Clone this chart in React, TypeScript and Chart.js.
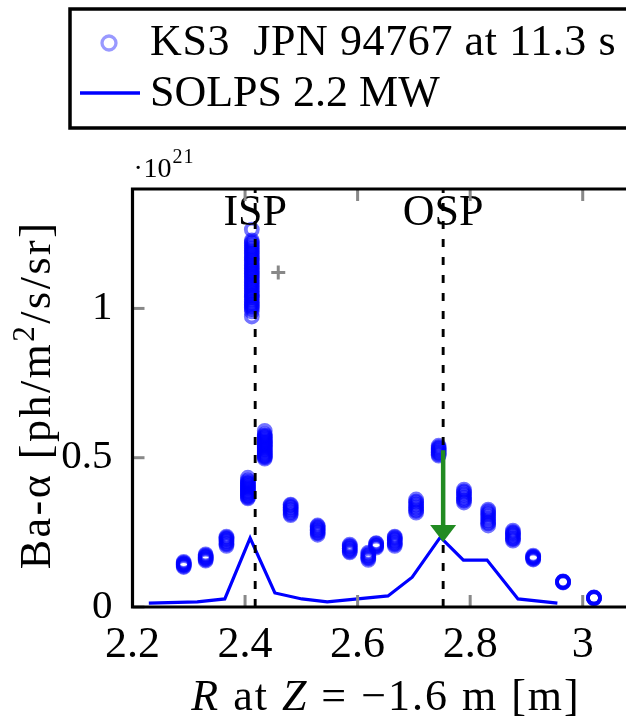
import React, { useEffect, useRef } from "react";
import { Chart, registerables } from "chart.js";

Chart.register(...registerables);

// ---------- data ----------
const X_MIN = 2.2;
const X_MAX = 3.1;
const Y_MIN = 0;
const Y_MAX = 1.4;
const X_TICKS = [2.2, 2.4, 2.6, 2.8, 3.0];
const X_TICK_LABELS = ["2.2", "2.4", "2.6", "2.8", "3"];
const Y_TICKS = [0, 0.5, 1];
const Y_TICK_LABELS = ["0", "0.5", "1"];

// KS3 channels (R positions) and the values measured over time at each channel (x 1e21)
const KS3_R = [
  2.291, 2.33, 2.367, 2.405, 2.412, 2.435, 2.481, 2.529, 2.586, 2.619,
  2.633, 2.666, 2.704, 2.744, 2.789, 2.832, 2.876, 2.912, 2.965, 3.02,
];
const KS3_VALUES = [
  [0.134, 0.137, 0.14, 0.142, 0.143, 0.146, 0.148, 0.151],
  [0.155, 0.159, 0.161, 0.165, 0.167, 0.17, 0.173, 0.176],
  [0.205, 0.21, 0.213, 0.218, 0.221, 0.226, 0.229, 0.232, 0.236],
  [0.364, 0.367, 0.37, 0.374, 0.378, 0.381, 0.383, 0.387, 0.39, 0.394, 0.397, 0.4, 0.402, 0.406, 0.41, 0.413, 0.415, 0.42, 0.424, 0.433],
  [0.973, 0.99, 0.998, 1.003, 1.008, 1.013, 1.018, 1.022, 1.029, 1.036, 1.04, 1.044, 1.05, 1.055, 1.061, 1.066, 1.071, 1.076, 1.081, 1.086, 1.091, 1.096, 1.102, 1.108, 1.112, 1.117, 1.122, 1.127, 1.133, 1.138, 1.143, 1.148, 1.154, 1.16, 1.165, 1.17, 1.176, 1.183, 1.188, 1.193, 1.199, 1.204, 1.21, 1.217, 1.222, 1.228, 1.264],
  [0.497, 0.501, 0.504, 0.507, 0.51, 0.514, 0.518, 0.521, 0.525, 0.528, 0.53, 0.534, 0.538, 0.541, 0.543, 0.547, 0.551, 0.553, 0.556, 0.56, 0.565, 0.568, 0.571, 0.575, 0.579, 0.59],
  [0.308, 0.312, 0.318, 0.323, 0.326, 0.332, 0.335, 0.34, 0.343],
  [0.242, 0.247, 0.25, 0.255, 0.258, 0.261, 0.266, 0.27, 0.273],
  [0.183, 0.186, 0.19, 0.195, 0.197, 0.202, 0.205, 0.209],
  [0.158, 0.163, 0.166, 0.17, 0.173, 0.178, 0.182],
  [0.199, 0.203, 0.205, 0.208, 0.212, 0.214],
  [0.205, 0.21, 0.213, 0.217, 0.222, 0.225, 0.23, 0.233, 0.236],
  [0.316, 0.322, 0.326, 0.333, 0.337, 0.343, 0.349, 0.353, 0.36],
  [0.507, 0.511, 0.516, 0.519, 0.523, 0.528, 0.531, 0.535, 0.54],
  [0.35, 0.356, 0.36, 0.365, 0.372, 0.376, 0.383, 0.387, 0.393],
  [0.273, 0.28, 0.284, 0.29, 0.297, 0.302, 0.31, 0.314, 0.321, 0.326],
  [0.222, 0.227, 0.23, 0.234, 0.239, 0.244, 0.247, 0.251, 0.256],
  [0.159, 0.161, 0.164, 0.165, 0.168, 0.169, 0.172],
  [0.082, 0.083, 0.084, 0.084, 0.085, 0.086],
  [0.029, 0.03, 0.03, 0.031, 0.031, 0.032],
];

const OUTLIER_R = [2.459];
const OUTLIER_VALUES = [1.12];

const SOLPS_R = [2.229, 2.315, 2.364, 2.409, 2.453, 2.501, 2.546, 2.654, 2.697, 2.747, 2.788, 2.83, 2.885, 2.955];
const SOLPS_VALUES = [0.013, 0.017, 0.027, 0.231, 0.047, 0.027, 0.017, 0.037, 0.1, 0.234, 0.157, 0.157, 0.027, 0.013];

const STRIKE_R = [2.418, 2.752];
const STRIKE_LABELS = ["ISP", "OSP"];

const ARROW_R = 2.752;
const ARROW_FROM = 0.525;
const ARROW_TO = 0.218;

const LEGEND_KS3 = "KS3  JPN 94767 at 11.3 s";
const LEGEND_SOLPS = "SOLPS 2.2 MW";
const Y_TITLE_PARTS = ["Ba-\u03b1 [ph/m", "2", "/s/sr]"];

// ---------- style ----------
const FONT = "'Liberation Serif', 'DejaVu Serif', serif";
const FS = 44;
const CANVAS_W = 700;
const CANVAS_H = 721;
const MARKER_COLOR = "rgba(0,0,255,0.55)";
const LEGEND_MARKER_COLOR = "rgba(0,0,255,0.4)";
const LINE_COLOR = "#0000ff";
const ARROW_COLOR = "#228b22";

const decor = {
  id: "decor",
  afterDraw(chart: any) {
    const ctx = chart.ctx as any;
    const xs = chart.scales.x;
    const ys = chart.scales.y;
    const { left, right, top, bottom } = chart.chartArea;
    ctx.save();

    // dashed strike point lines
    ctx.strokeStyle = "#000";
    ctx.lineWidth = 2.9;
    ctx.setLineDash([8, 10]);
    STRIKE_R.forEach((r) => {
      const px = xs.getPixelForValue(r);
      ctx.beginPath();
      ctx.moveTo(px, bottom);
      ctx.lineTo(px, top);
      ctx.stroke();
    });
    ctx.setLineDash([]);

    // strike point labels
    ctx.fillStyle = "#000";
    ctx.font = `${FS}px ${FONT}`;
    ctx.textAlign = "center";
    ctx.textBaseline = "alphabetic";
    STRIKE_R.forEach((r, i) => {
      ctx.fillText(STRIKE_LABELS[i], xs.getPixelForValue(r), top + 36);
    });

    // arrow
    const ax = xs.getPixelForValue(ARROW_R);
    const ay0 = ys.getPixelForValue(ARROW_FROM);
    const ay1 = ys.getPixelForValue(ARROW_TO);
    ctx.strokeStyle = ARROW_COLOR;
    ctx.fillStyle = ARROW_COLOR;
    ctx.lineWidth = 4.5;
    ctx.beginPath();
    ctx.moveTo(ax, ay0);
    ctx.lineTo(ax, ay1 - 12);
    ctx.stroke();
    ctx.beginPath();
    ctx.moveTo(ax, ay1);
    ctx.lineTo(ax - 13, ay1 - 17);
    ctx.lineTo(ax + 13, ay1 - 17);
    ctx.closePath();
    ctx.fill();

    // inner grey ticks
    ctx.strokeStyle = "#888";
    ctx.lineWidth = 3;
    X_TICKS.forEach((v) => {
      const px = xs.getPixelForValue(v);
      ctx.beginPath();
      ctx.moveTo(px, bottom);
      ctx.lineTo(px, bottom - 12);
      ctx.moveTo(px, top);
      ctx.lineTo(px, top + 12);
      ctx.stroke();
    });
    Y_TICKS.forEach((v) => {
      const py = ys.getPixelForValue(v);
      ctx.beginPath();
      ctx.moveTo(left, py);
      ctx.lineTo(left + 12, py);
      ctx.stroke();
    });

    // axis frame
    ctx.strokeStyle = "#000";
    ctx.lineWidth = 3.2;
    ctx.beginPath();
    ctx.moveTo(left, top);
    ctx.lineTo(left, bottom);
    ctx.moveTo(left - 1.6, bottom);
    ctx.lineTo(right + 1.6, bottom);
    ctx.lineTo(right + 1.6, top);
    ctx.moveTo(left - 1.6, top);
    ctx.lineTo(right + 1.6, top);
    ctx.stroke();

    // exponent label
    ctx.fillStyle = "#000";
    ctx.textAlign = "left";
    ctx.font = `28px ${FONT}`;
    ctx.fillText("\u00b7", left + 1, top - 12);
    ctx.fillText("10", left + 11, top - 12);
    const w10 = ctx.measureText("10").width;
    ctx.font = `20px ${FONT}`;
    ctx.letterSpacing = "1px";
    ctx.fillText("21", left + 11 + w10 + 1, top - 26);
    ctx.letterSpacing = "0px";

    // y title (rotated, with superscript)
    ctx.save();
    ctx.translate(50, 395);
    ctx.rotate(-Math.PI / 2);
    ctx.letterSpacing = "2.5px";
    ctx.font = `${FS}px ${FONT}`;
    const w0 = ctx.measureText(Y_TITLE_PARTS[0]).width;
    const w2 = ctx.measureText(Y_TITLE_PARTS[2]).width;
    ctx.font = `${Math.round(FS * 0.7)}px ${FONT}`;
    const w1 = ctx.measureText(Y_TITLE_PARTS[1]).width;
    let tx = -(w0 + w1 + w2) / 2;
    ctx.textAlign = "left";
    ctx.font = `${FS}px ${FONT}`;
    ctx.fillText(Y_TITLE_PARTS[0], tx, 0);
    tx += w0;
    ctx.font = `${Math.round(FS * 0.7)}px ${FONT}`;
    ctx.fillText(Y_TITLE_PARTS[1], tx, -16);
    tx += w1;
    ctx.font = `${FS}px ${FONT}`;
    ctx.fillText(Y_TITLE_PARTS[2], tx, 0);
    ctx.restore();

    // x title with italic symbols
    const segs = [
      { t: "R", it: true },
      { t: " at ", it: false },
      { t: "Z", it: true },
      { t: " = \u22121.6 m [m]", it: false },
    ];
    ctx.letterSpacing = "2px";
    let total = 0;
    const widths = segs.map((s) => {
      ctx.font = `${s.it ? "italic " : ""}${FS}px ${FONT}`;
      const w = ctx.measureText(s.t).width;
      total += w;
      return w;
    });
    let cx = 386 - total / 2;
    ctx.textAlign = "left";
    segs.forEach((s, i) => {
      ctx.font = `${s.it ? "italic " : ""}${FS}px ${FONT}`;
      ctx.fillText(s.t, cx, 710);
      cx += widths[i];
    });
    ctx.letterSpacing = "0px";

    // legend box
    ctx.strokeStyle = "#000";
    ctx.lineWidth = 3.5;
    ctx.beginPath();
    ctx.rect(70, 9, CANVAS_W, 119);
    ctx.stroke();
    ctx.strokeStyle = LEGEND_MARKER_COLOR;
    ctx.lineWidth = 3.3;
    ctx.beginPath();
    ctx.arc(109, 43, 7, 0, Math.PI * 2);
    ctx.stroke();
    ctx.strokeStyle = LINE_COLOR;
    ctx.lineWidth = 3.3;
    ctx.beginPath();
    ctx.moveTo(80, 93);
    ctx.lineTo(140, 93);
    ctx.stroke();
    ctx.fillStyle = "#000";
    ctx.font = `${FS}px ${FONT}`;
    ctx.textAlign = "left";
    ctx.letterSpacing = "0.6px";
    ctx.fillText(LEGEND_KS3, 150, 55);
    ctx.letterSpacing = "0px";
    ctx.fillText(LEGEND_SOLPS, 150, 106);

    ctx.restore();
  },
};

export default function App() {
  const ref = useRef<HTMLCanvasElement>(null);

  useEffect(() => {
    const canvas = ref.current;
    if (!canvas) return;
    const ksData: { x: number; y: number }[] = [];
    KS3_R.forEach((r, i) => KS3_VALUES[i].forEach((v) => ksData.push({ x: r, y: v })));

    const chart = new Chart(canvas, {
      type: "scatter",
      data: {
        datasets: [
          {
            label: LEGEND_KS3,
            data: ksData,
            pointStyle: "circle",
            pointRadius: 6,
            pointBorderWidth: 3.8,
            borderColor: MARKER_COLOR,
            backgroundColor: "rgba(0,0,0,0)",
            order: 1,
          } as any,
          {
            label: LEGEND_SOLPS,
            data: SOLPS_R.map((r, i) => ({ x: r, y: SOLPS_VALUES[i] })),
            showLine: true,
            borderColor: LINE_COLOR,
            backgroundColor: LINE_COLOR,
            borderWidth: 3.2,
            pointRadius: 0,
            tension: 0,
            order: 2,
          } as any,
          {
            label: "outlier",
            data: OUTLIER_R.map((r, i) => ({ x: r, y: OUTLIER_VALUES[i] })),
            pointStyle: "cross",
            pointRadius: 7,
            pointBorderWidth: 3,
            borderColor: "#888",
            backgroundColor: "#888",
            order: 0,
          } as any,
        ],
      },
      options: {
        responsive: false,
        animation: false,
        devicePixelRatio: 1,
        layout: { padding: { top: 189, right: CANVAS_W - 639, left: 0, bottom: 0 } },
        plugins: { legend: { display: false }, tooltip: { enabled: false } },
        scales: {
          x: {
            type: "linear",
            min: X_MIN,
            max: X_MAX,
            afterFit: (s: any) => {
              s.height = 114;
            },
            afterBuildTicks: (s: any) => {
              s.ticks = X_TICKS.map((v) => ({ value: v }));
            },
            ticks: {
              callback: (v: any) => {
                const i = X_TICKS.findIndex((t) => Math.abs(t - Number(v)) < 1e-6);
                return i >= 0 ? X_TICK_LABELS[i] : "";
              },
              font: { family: FONT, size: FS },
              color: "#000",
              padding: 4,
              maxRotation: 0,
              autoSkip: false,
            },
            grid: { display: false },
            border: { display: false },
          },
          y: {
            type: "linear",
            min: Y_MIN,
            max: Y_MAX,
            afterFit: (s: any) => {
              s.width = 132.5;
            },
            afterBuildTicks: (s: any) => {
              s.ticks = Y_TICKS.map((v) => ({ value: v }));
            },
            ticks: {
              callback: (v: any) => {
                const i = Y_TICKS.findIndex((t) => Math.abs(t - Number(v)) < 1e-6);
                return i >= 0 ? Y_TICK_LABELS[i] : "";
              },
              font: { family: FONT, size: 41 },
              color: "#000",
              padding: 12,
              autoSkip: false,
            },
            grid: { display: false },
            border: { display: false },
          },
        },
      },
      plugins: [decor],
    });
    return () => chart.destroy();
  }, []);

  return (
    <div
      style={{
        position: "fixed",
        left: 0,
        top: 0,
        width: 626,
        height: 721,
        overflow: "hidden",
        background: "#fff",
      }}
    >
      <canvas ref={ref} width={CANVAS_W} height={CANVAS_H} style={{ display: "block" }} />
    </div>
  );
}
